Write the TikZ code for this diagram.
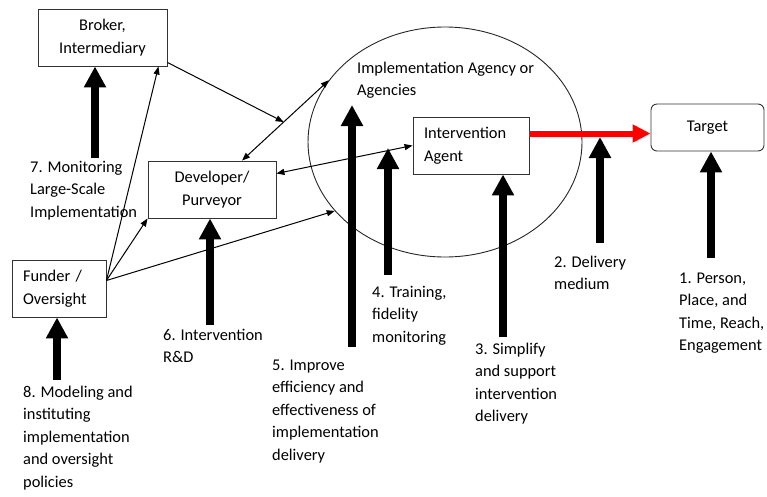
\documentclass[tikz,border=0pt]{standalone}
\usepackage{fontspec}
\setmainfont{Carlito}
\usetikzlibrary{arrows.meta,shapes.geometric,calc}
\begin{document}
\begin{tikzpicture}[x=1pt,y=-1pt,
  every node/.style={font=\fontsize{16.4}{22.5}\selectfont, text=black},
  box/.style={draw=black!80, line width=0.9pt, minimum width=#1, minimum height=57pt, inner sep=0pt, align=center},
  lbl/.style={anchor=base west, inner sep=0pt, align=left},
  link/.style={draw=black, line width=1pt, -{Triangle[width=6pt,length=8pt]}},
  twoway/.style={draw=black, line width=1pt, {Triangle[width=6pt,length=8pt]}-{Triangle[width=6pt,length=8pt]}},
  bigarrow/.style={draw=black, line width=8pt, -{Triangle[width=21pt,length=21pt]}},
  flow/.style={draw=red, line width=6pt, -{Triangle[width=17pt,length=18pt]}}]
\useasboundingbox (0,0) rectangle (767,496);

% implementation agency boundary
\node[ellipse, draw=black!85, line width=0.9pt, minimum width=274pt, minimum height=230pt, inner sep=0pt] (agency) at (445,142) {};
% multi-line labels are placed by the baseline of their last line
\node[lbl] (agencytxt) at (357,95.5) {Implementation Agency or\\Agencies};

% boxes
\node[box=129pt] (broker) at (102.5,37.5) {Broker,\\Intermediary};
\node[box=128pt] (developer) at (212,189.5) {Developer/\\Purveyor};
\node[box=94pt, text width=72pt, align=left] (funder) at (59,288.5) {Funder /\\Oversight};
\node[box=116pt, text width=94pt, align=left] (agent) at (471,145.5) {Intervention\\Agent};
\node[draw=black!80, line width=0.9pt, rounded corners=6pt, minimum width=113pt, minimum height=47pt, inner sep=0pt] (target) at (707.5,127.5) {\raisebox{2pt}{Target}};

% thin connectors
\coordinate (fo) at ([yshift=8pt]funder.east);
\coordinate (devtop) at ([xshift=30pt]developer.north);
\coordinate (meet) at ($(agency.152)!0.52!(devtop)$);
\draw[link] (fo) -- ([xshift=-9pt]broker.south east);
\draw[link] (fo) -- (developer.south west);
\draw[link] (fo) -- (agency.212);
\draw[twoway] (agency.152) -- (devtop);
\draw[link] ([yshift=4pt]broker.south east) -- (meet);
\draw[twoway] ([yshift=16pt]developer.east) -- (agent.west);

% delivery to target
\draw[flow] ([yshift=12pt]agent.east) coordinate (redstart) -- (redstart -| target.west);

% leverage points
\coordinate (b7) at (95,158);
\coordinate (b6) at (210,325);
\coordinate (b8) at (57,380);
\coordinate (b5) at (352,347);
\coordinate (t5) at (352,105);
\coordinate (b4) at (388,275);
\coordinate (t4) at (388,148);
\coordinate (b3) at (503,337);
\coordinate (b2) at (600,243);
\coordinate (t2) at (600,137);
\coordinate (b1) at (711,258);
\draw[bigarrow] (b7) -- (b7 |- broker.south);
\draw[bigarrow] (b6) -- (b6 |- developer.south);
\draw[bigarrow] (b8) -- (b8 |- funder.south);
\draw[bigarrow] (b5) -- (t5);
\draw[bigarrow] (b4) -- (t4);
\draw[bigarrow] (b3) -- (b3 |- agent.south);
\draw[bigarrow] (b2) -- (t2);
\draw[bigarrow] (b1) -- (b1 |- target.south);

% labels
\node[lbl] (l7) at (30,217) {7. Monitoring\\Large-Scale\\Implementation};
\node[lbl] (l6) at (163,362.5) {6. Intervention\\R\&D};
\node[lbl] (l8) at (23,487) {8. Modeling and\\instituting\\implementation\\and oversight\\policies};
\node[lbl] (l5) at (272,460) {5. Improve\\efficiency and\\effectiveness of\\implementation\\delivery};
\node[lbl] (l4) at (372,342) {4. Training,\\fidelity\\monitoring};
\node[lbl] (l3) at (475,421.5) {3. Simplify\\and support\\intervention\\delivery};
\node[lbl] (l2) at (554,289.5) {2. Delivery\\medium};
\node[lbl] (l1) at (679,350.5) {1. Person,\\Place, and\\Time, Reach,\\Engagement};
\end{tikzpicture}
\end{document}
